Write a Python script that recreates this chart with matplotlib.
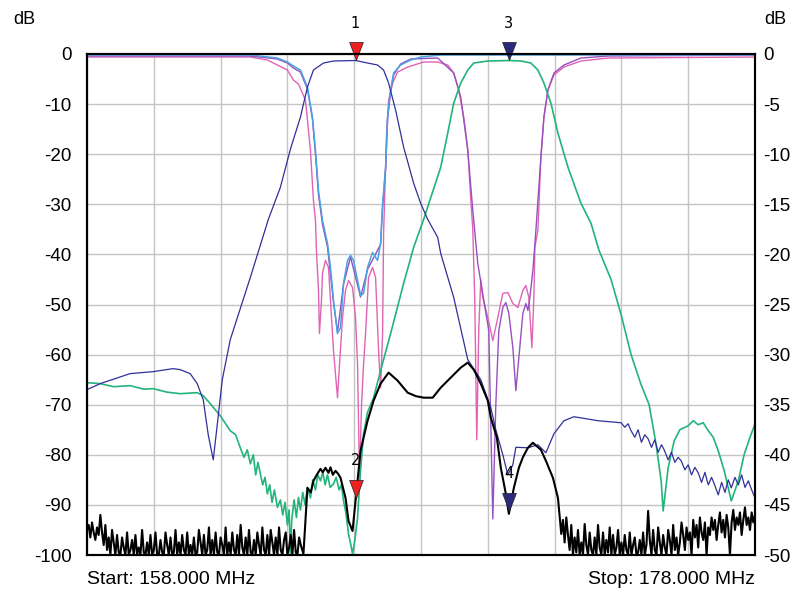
import numpy as np
import matplotlib
matplotlib.use("Agg")
import matplotlib.pyplot as plt

plt.rcParams["font.family"] = ["Liberation Sans", "DejaVu Sans"]
plt.rcParams["axes.unicode_minus"] = False

# sweep 158 - 178 MHz, values in dB (left scale)
navy_f = [158.00, 158.39, 159.29, 159.98, 160.58, 160.79, 161.09, 161.30, 161.48, 161.63,
          161.78, 161.90, 162.05, 162.29, 162.89, 163.43, 163.79, 164.09, 164.39, 164.60,
          164.78, 165.08, 165.38, 166.04, 166.40, 166.70, 166.88, 167.03, 167.24, 167.48,
          167.78, 167.99, 168.20, 168.50, 168.59, 168.98, 169.40, 169.79, 170.09, 170.24,
          170.45, 170.60, 170.75, 170.84, 171.20, 171.50, 171.74, 171.98, 172.28, 172.58,
          173.30, 173.99, 174.10, 174.20, 174.29, 174.40, 174.50, 174.60, 174.70, 174.80,
          174.90, 175.00, 175.10, 175.20, 175.28, 175.40, 175.50, 175.60, 175.70, 175.79,
          175.90, 176.00, 176.10, 176.20, 176.30, 176.40, 176.50, 176.60, 176.70, 176.78,
          176.90, 177.00, 177.10, 177.20, 177.29, 177.40, 177.50, 177.60, 177.70, 177.80,
          177.90, 178.00]
navy_db = [-67.0, -65.8, -63.8, -63.4, -62.8, -63.0, -63.8, -65.8, -69.0, -76.0,
           -81.0, -74.0, -65.0, -57.0, -44.6, -33.0, -26.6, -19.0, -12.6, -6.6,
           -3.2, -1.8, -1.4, -1.3, -1.8, -2.2, -3.2, -5.8, -11.2, -18.6,
           -25.8, -29.8, -33.0, -36.6, -39.8, -48.6, -61.0, -65.0, -70.6, -75.0,
           -80.0, -84.0, -82.0, -78.5, -78.6, -78.0, -79.6, -75.8, -73.2, -72.4,
           -73.2, -73.6, -74.5, -73.8, -75.2, -76.5, -75.0, -77.5, -76.0, -76.8,
           -78.5, -77.0, -79.5, -78.0, -79.0, -81.0, -79.5, -81.5, -80.5, -81.2,
           -83.0, -82.0, -84.0, -82.5, -83.6, -85.5, -83.5, -86.0, -84.5, -85.8,
           -88.0, -85.5, -87.5, -85.0, -86.6, -84.5, -86.0, -84.0, -86.5, -85.2,
           -87.0, -88.6]

green_f = [158.00, 158.39, 158.80, 159.29, 159.70, 159.98, 160.40, 160.79, 161.30, 161.48,
           161.69, 161.99, 162.29, 162.45, 162.59, 162.70, 162.80, 162.89, 162.98, 163.05,
           163.12, 163.19, 163.26, 163.33, 163.40, 163.47, 163.54, 163.61, 163.70, 163.79,
           163.86, 163.93, 164.00, 164.05, 164.09, 164.13, 164.20, 164.27, 164.33, 164.39,
           164.46, 164.53, 164.60, 164.69, 164.76, 164.84, 164.91, 164.99, 165.06, 165.13,
           165.20, 165.28, 165.38, 165.46, 165.55, 165.62, 165.68, 165.75, 165.83, 165.90,
           165.95, 166.02, 166.10, 166.18, 166.28, 166.40, 166.58, 166.79, 167.09, 167.48,
           167.78, 168.08, 168.59, 168.80, 168.98, 169.19, 169.40, 169.58, 170.00, 170.66,
           170.99, 171.29, 171.50, 171.68, 171.89, 172.10, 172.40, 172.79, 173.09, 173.33,
           173.69, 173.99, 174.29, 174.59, 174.83, 175.04, 175.19, 175.25, 175.40, 175.58,
           175.75, 176.00, 176.15, 176.30, 176.45, 176.60, 176.75, 176.90, 177.08, 177.29,
           177.50, 177.68, 177.89, 178.00]
green_db = [-65.6, -65.8, -66.4, -66.2, -66.9, -66.8, -67.5, -67.8, -67.6, -68.2,
            -69.8, -72.2, -75.2, -76.0, -78.6, -80.5, -79.0, -81.8, -80.0, -84.0,
            -81.5, -83.8, -86.0, -84.5, -87.8, -86.0, -89.5, -87.0, -90.5, -89.0,
            -92.0, -89.5, -94.0, -91.0, -99.8, -93.0, -89.0, -92.5, -88.5, -91.0,
            -87.5, -90.0, -86.5, -88.6, -85.0, -87.0, -84.0, -85.2, -83.5, -86.0,
            -84.0, -86.5, -85.8, -84.5, -87.0, -86.0, -89.2, -91.5, -95.8, -98.0,
            -99.8, -97.0, -92.6, -84.0, -75.8, -71.5, -68.6, -63.2, -55.8, -45.8,
            -38.6, -33.0, -22.6, -15.8, -9.8, -5.8, -3.2, -1.8, -1.4, -1.3,
            -1.4, -1.8, -3.2, -5.8, -9.8, -15.8, -22.6, -29.8, -33.8, -39.2,
            -45.0, -52.0, -60.0, -66.0, -70.0, -78.0, -85.2, -91.2, -82.6, -77.2,
            -75.0, -74.2, -73.2, -74.0, -73.6, -75.2, -76.5, -79.2, -83.2, -89.2,
            -85.2, -79.8, -75.8, -73.8]

lblue_f = [158.00, 162.89, 163.70, 164.00, 164.18, 164.39, 164.60, 164.75, 164.84, 164.93,
           165.05, 165.20, 165.29, 165.38, 165.50, 165.59, 165.68, 165.80, 165.89, 165.98,
           166.19, 166.28, 166.40, 166.55, 166.64, 166.70, 166.79, 166.85, 166.94, 167.00,
           167.09, 167.18, 167.39, 167.69, 168.00, 168.59, 178.00]
lblue_db = [-0.2, -0.2, -0.8, -1.6, -2.4, -3.2, -6.6, -12.6, -19.2, -27.2,
            -33.2, -37.8, -42.6, -49.2, -55.8, -54.6, -45.8, -41.2, -40.2, -41.2,
            -48.2, -47.8, -42.6, -39.6, -40.6, -41.2, -37.8, -30.0, -22.6, -12.6,
            -7.2, -3.8, -2.2, -1.2, -0.6, -0.2, -0.2]

pink_f = [158.00, 162.89, 163.40, 163.70, 164.00, 164.18, 164.33, 164.54, 164.69, 164.78,
          164.84, 164.87, 164.93, 164.96, 165.02, 165.05, 165.14, 165.23, 165.29, 165.38,
          165.50, 165.56, 165.65, 165.74, 165.83, 165.95, 166.04, 166.10, 166.16, 166.22,
          166.28, 166.34, 166.43, 166.55, 166.64, 166.73, 166.79, 166.85, 166.88, 166.97,
          167.03, 167.15, 167.30, 167.60, 168.08, 168.50, 168.80, 168.98, 169.13, 169.28,
          169.40, 169.49, 169.55, 169.61, 169.67, 169.73, 169.79, 169.85, 170.00, 170.15,
          170.30, 170.45, 170.60, 170.75, 170.90, 171.05, 171.14, 171.23, 171.32, 171.38,
          171.41, 171.50, 171.59, 171.68, 171.80, 171.98, 172.28, 172.79, 173.60, 178.00]
pink_db = [-0.6, -0.6, -1.2, -2.2, -3.2, -5.2, -6.0, -9.2, -19.2, -29.2,
           -33.2, -39.2, -47.0, -55.8, -49.2, -43.8, -41.2, -42.6, -49.2, -59.2,
           -68.6, -62.0, -52.6, -47.2, -45.2, -46.6, -52.6, -62.0, -85.0, -70.0,
           -62.0, -55.8, -44.6, -42.6, -44.6, -59.2, -66.6, -55.8, -35.8, -15.8,
           -9.2, -5.8, -3.6, -2.6, -1.6, -1.6, -2.2, -3.8, -7.2, -12.6,
           -19.0, -29.0, -35.0, -49.0, -77.0, -55.0, -45.0, -48.6, -52.6, -57.2,
           -52.6, -47.8, -47.6, -49.8, -50.6, -47.2, -46.2, -48.6, -58.6, -48.6,
           -38.6, -35.2, -20.6, -12.6, -7.2, -4.2, -2.6, -1.4, -0.8, -0.6]

purple_f = [158.00, 162.89, 163.70, 164.00, 164.18, 164.39, 164.60, 164.75, 164.84, 164.93,
            165.05, 165.20, 165.38, 165.50, 165.68, 165.89, 166.19, 166.40, 166.79, 166.85,
            166.94, 167.00, 167.09, 167.18, 167.39, 167.69, 168.50, 168.98, 169.19, 169.40,
            169.55, 169.70, 169.88, 170.03, 170.15, 170.24, 170.33, 170.45, 170.54, 170.63,
            170.75, 170.84, 170.93, 171.05, 171.14, 171.20, 171.26, 171.35, 171.44, 171.59,
            171.68, 171.80, 171.98, 172.28, 172.79, 173.60, 178.00]
purple_db = [-0.4, -0.4, -1.0, -1.8, -2.8, -3.6, -7.0, -13.0, -20.0, -28.0,
             -34.0, -38.5, -49.5, -55.5, -46.0, -40.5, -48.5, -43.0, -38.0, -30.5,
             -23.0, -13.0, -7.5, -4.2, -2.0, -1.0, -0.8, -3.8, -8.6, -19.2,
             -31.2, -41.8, -49.2, -55.2, -92.8, -70.0, -55.2, -50.6, -49.6, -51.8,
             -58.6, -67.2, -60.6, -51.8, -49.8, -51.2, -48.6, -43.2, -35.2, -20.6,
             -12.6, -7.2, -3.8, -2.2, -0.8, -0.4, -0.2]

black_f = [164.48, 164.60, 164.70, 164.78, 164.88, 164.99, 165.06, 165.14, 165.23, 165.29,
           165.36, 165.44, 165.52, 165.59, 165.74, 165.83, 165.95, 166.04, 166.19, 166.40,
           166.58, 166.79, 167.03, 167.30, 167.60, 167.85, 168.08, 168.35, 168.59, 168.89,
           169.19, 169.40, 169.58, 169.79, 170.00, 170.09, 170.27, 170.39, 170.54, 170.63,
           170.78, 170.93, 171.05, 171.20, 171.35, 171.59, 171.74, 171.95, 172.10]
black_db = [-99.8, -86.6, -87.5, -85.2, -84.0, -82.8, -83.5, -82.6, -83.6, -82.5,
            -84.0, -83.2, -83.8, -84.6, -88.6, -93.2, -95.2, -89.2, -79.2, -73.2,
            -69.2, -65.8, -63.6, -65.2, -67.6, -68.3, -68.6, -68.6, -66.6, -64.6,
            -62.6, -61.6, -63.0, -65.8, -69.2, -72.6, -76.5, -82.6, -87.8, -91.8,
            -86.6, -82.6, -80.5, -78.6, -77.6, -79.0, -81.2, -84.6, -88.6]

# noise floor of the isolation trace, sampled every 0.05 MHz
noise_left = [-95.0, -94.0, -96.5, -93.5, -95.5, -97.0, -94.5, -96.0, -92.0, -95.5,
              -98.0, -94.0, -99.0, -96.5, -100, -95.0, -97.5, -100, -96.0, -99.5,
              -100, -96.5, -98.5, -100, -95.5, -100, -99.0, -97.0, -100, -96.0,
              -100, -98.5, -100, -95.0, -99.5, -100, -97.5, -100, -96.0, -100,
              -99.0, -95.5, -100, -100, -97.0, -99.5, -100, -95.5, -98.0, -100,
              -96.5, -100, -99.5, -95.0, -100, -97.5, -100, -96.0, -99.0, -100,
              -95.5, -100, -98.0, -100, -96.5, -100, -99.5, -95.0, -97.5, -100,
              -96.0, -100, -99.0, -94.5, -100, -97.0, -100, -95.5, -99.5, -100,
              -96.5, -98.0, -100, -94.5, -100, -97.5, -100, -95.5, -99.0, -100,
              -96.0, -100, -94.0, -98.5, -100, -96.5, -100, -95.0, -99.5, -100,
              -97.0, -100, -95.5, -98.0, -100, -94.5, -99.0, -100, -96.0, -100,
              -95.0, -97.5, -100, -96.5, -100, -94.5, -99.0, -100, -97.0, -95.5,
              -100, -98.5, -96.0, -100, -95.0, -99.5, -100, -96.5, -98.0]
noise_right = [-95.8, -93.0, -97.5, -92.5, -96.0, -99.0, -94.0, -100, -96.5, -99.5,
               -95.0, -100, -97.5, -100, -93.8, -98.0, -100, -95.5, -99.0, -100,
               -96.5, -100, -94.0, -98.5, -100, -95.5, -100, -97.0, -99.5, -94.5,
               -100, -96.0, -100, -98.5, -95.0, -100, -97.5, -100, -96.0, -99.0,
               -100, -95.5, -100, -98.0, -96.5, -100, -99.5, -97.0, -100, -95.5,
               -100, -98.0, -91.2, -97.0, -100, -95.0, -99.0, -100, -94.5, -97.5,
               -100, -96.0, -98.5, -100, -95.0, -97.0, -100, -94.0, -99.0, -96.5,
               -100, -97.5, -93.5, -96.0, -99.0, -94.5, -97.0, -95.5, -100, -93.0,
               -96.5, -94.0, -98.5, -92.5, -95.5, -97.0, -93.5, -100, -94.5, -96.0,
               -92.5, -95.0, -93.0, -97.0, -94.0, -91.5, -95.5, -93.0, -96.5, -92.0,
               -94.5, -100, -93.5, -91.0, -95.0, -92.5, -94.0, -91.5, -96.0, -93.0,
               -90.5, -94.0, -92.5, -95.0, -91.5, -93.5, -92.0]

marker_f = [166.04, 166.04, 170.62, 170.62]
marker_db = [-1.2, -88.6, -1.2, -91.2]
marker_lbl = ["1", "2", "3", "4"]
marker_col = ["#ee2020", "#ee2020", "#2a2a7a", "#2a2a7a"]

left_ticks = list(range(0, -101, -10))
right_ticks = list(range(0, -51, -5))

nl_f = np.linspace(158.0, 164.4, len(noise_left))
nr_f = np.linspace(172.2, 178.0, len(noise_right))
blk_f = np.concatenate([nl_f, black_f, nr_f])
blk_db = np.concatenate([noise_left, black_db, noise_right])

fig = plt.figure(figsize=(8.01, 5.92), dpi=100)
ax = fig.add_axes([87 / 801, 37 / 592, 668 / 801, 501 / 592])

ax.plot(pink_f, pink_db, color="#e064b4", lw=1.0, zorder=3)
ax.plot(purple_f, purple_db, color="#9650c0", lw=1.0, zorder=3)
ax.plot(lblue_f, lblue_db, color="#4aa2e0", lw=1.1, zorder=4)
ax.plot(green_f, green_db, color="#22b47a", lw=1.2, zorder=4)
ax.plot(navy_f, navy_db, color="#30309a", lw=0.9, zorder=5)
ax.plot(blk_f, blk_db, color="black", lw=1.5, zorder=6)

tri = [(0, 0), (-0.38, 1), (0.38, 1), (0, 0)]
for f, d, lab, c in zip(marker_f, marker_db, marker_lbl, marker_col):
    ax.plot([f], [d], marker=tri, markersize=26, color=c, mec="#202020", mew=0.5,
            zorder=8, clip_on=False)
    ax.annotate(lab, (f, d), xytext=(0, 37), textcoords="offset pixels", ha="center",
                va="center", fontsize=10.5, family=["Liberation Sans Narrow", "DejaVu Sans"],
                zorder=9, annotation_clip=False)

ax.set_xlim(158, 178)
ax.set_ylim(-100, 0)
ax.set_xticks(np.arange(158, 178.1, 2))
ax.set_yticks(left_ticks)
ax.set_yticklabels([str(t) for t in left_ticks])
ax.tick_params(axis="x", length=0, labelbottom=False)
ax.tick_params(axis="y", length=0, pad=11, labelsize=13.5)
ax.grid(True, color="#c4c4c4", lw=1.0, zorder=0)
ax.set_axisbelow(True)
for s in ax.spines.values():
    s.set_linewidth(1.5)
    s.set_color("black")

ax2 = ax.twinx()
ax2.set_ylim(-50, 0)
ax2.set_yticks(right_ticks)
ax2.set_yticklabels([str(t) for t in right_ticks])
ax2.tick_params(axis="y", length=0, pad=6, labelsize=13.5)
for s in ax2.spines.values():
    s.set_linewidth(1.5)

fig.text(24 / 801, 1 - 20 / 592, "dB", ha="center", va="center", fontsize=13)
fig.text(775 / 801, 1 - 20 / 592, "dB", ha="center", va="center", fontsize=13)
fig.text(87 / 801, 1 - 580 / 592, "Start: 158.000 MHz", ha="left", va="center", fontsize=14)
fig.text(755 / 801, 1 - 580 / 592, "Stop: 178.000 MHz", ha="right", va="center", fontsize=14)

fig.savefig("out.png", dpi=100)
